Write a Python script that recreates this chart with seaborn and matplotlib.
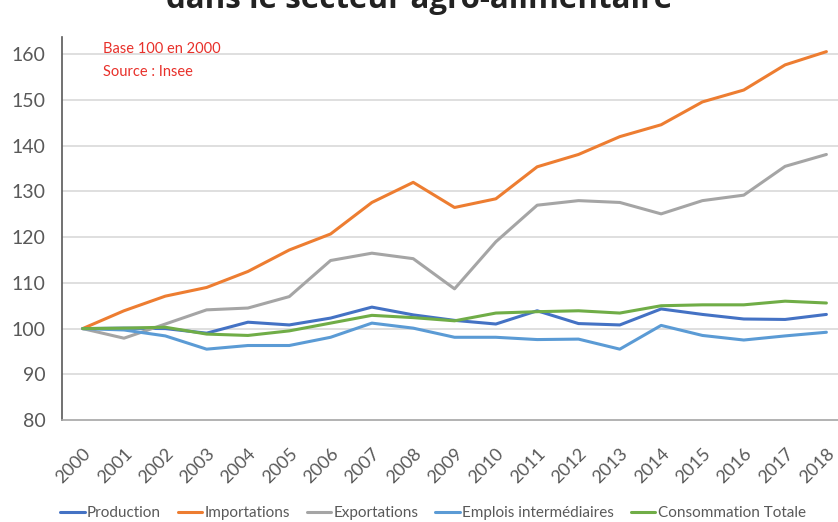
import matplotlib.pyplot as plt
import seaborn as sns
import pandas as pd

years = [str(y) for y in range(2000, 2019)]

production = [100, 100.1, 100.0, 99.0, 101.4, 100.8, 102.3, 104.7, 103.0, 101.8,
              101.0, 103.9, 101.1, 100.8, 104.3, 103.1, 102.1, 102.0, 103.1]
importations = [100, 103.9, 107.1, 109.0, 112.5, 117.2, 120.7, 127.6, 132.0, 126.5,
                128.4, 135.4, 138.1, 142.0, 144.6, 149.6, 152.2, 157.7, 160.6]
exportations = [100, 97.9, 101.0, 104.1, 104.5, 107.0, 114.9, 116.5, 115.3, 108.7,
                119.0, 127.0, 128.0, 127.6, 125.1, 128.0, 129.2, 135.5, 138.1]
emplois = [100, 99.7, 98.4, 95.5, 96.3, 96.3, 98.1, 101.2, 100.1, 98.1,
           98.1, 97.6, 97.7, 95.5, 100.7, 98.5, 97.5, 98.4, 99.2]
consommation = [100, 100.1, 100.3, 98.8, 98.5, 99.5, 101.2, 102.9, 102.4, 101.7,
                103.4, 103.7, 103.9, 103.4, 105.0, 105.2, 105.2, 106.0, 105.6]

series_names = ['Production', 'Importations', 'Exportations',
                'Emplois intermédiaires', 'Consommation Totale']
colors = ['#4472C4', '#ED7D31', '#A5A5A5', '#5B9BD5', '#70AD47']

df = pd.DataFrame({
    'annee': years * 5,
    'valeur': production + importations + exportations + emplois + consommation,
    'serie': [n for n in series_names for _ in years],
})

sns.set_theme(style='white')
plt.rcParams['font.family'] = ['Lato', 'DejaVu Sans']

fig = plt.figure(figsize=(8.38, 5.22), dpi=100)
ax = fig.add_axes([0.074, 0.1954, 0.9368, 0.7337])

sns.lineplot(data=df, x='annee', y='valeur', hue='serie', palette=colors,
             hue_order=series_names, linewidth=2.2, ax=ax, legend=False, sort=False)

ax.set_xlim(-0.5, 18.5)
ax.set_ylim(80, 163.8)
ax.set_yticks(range(80, 161, 10))
for v in range(90, 161, 10):
    ax.axhline(v, color='#d9d9d9', lw=1.2, zorder=0)

ax.set_xlabel('')
ax.set_ylabel('')
ax.tick_params(axis='y', labelsize=14, colors='#595959', length=0, pad=12)
ax.tick_params(axis='x', labelsize=13, colors='#595959', length=0, pad=18)
plt.setp(ax.get_xticklabels(), rotation=45, ha='right', rotation_mode='anchor')

for s in ['top', 'right']:
    ax.spines[s].set_visible(False)
ax.spines['left'].set_color('#595959')
ax.spines['left'].set_linewidth(1.2)
ax.spines['bottom'].set_color('#a6a6a6')
ax.spines['bottom'].set_linewidth(1.2)

# note en rouge
fig.text(103 / 838, 1 - 49 / 522, 'Base 100 en 2000', color='#e8302a',
         fontsize=10.5, va='center')
fig.text(103 / 838, 1 - 72 / 522, 'Source : Insee', color='#e8302a',
         fontsize=10.5, va='center')

fig.text(0.5, 1 - 8 / 522, 'dans le secteur agro-alimentaire', ha='center',
         va='baseline', fontsize=22.5, fontweight='bold', color='#222222',
         family=['Open Sans', 'DejaVu Sans'])

handles = [plt.Line2D([0], [0], color=c, lw=2.2) for c in colors]
fig.legend(handles, series_names, loc='center', bbox_to_anchor=(433 / 838, 1 - 513 / 522),
           ncol=5, frameon=False, fontsize=11, handlelength=1.6, handletextpad=0.15,
           columnspacing=1.1, labelcolor='#595959', borderpad=0)

fig.savefig('out.png', dpi=100)
